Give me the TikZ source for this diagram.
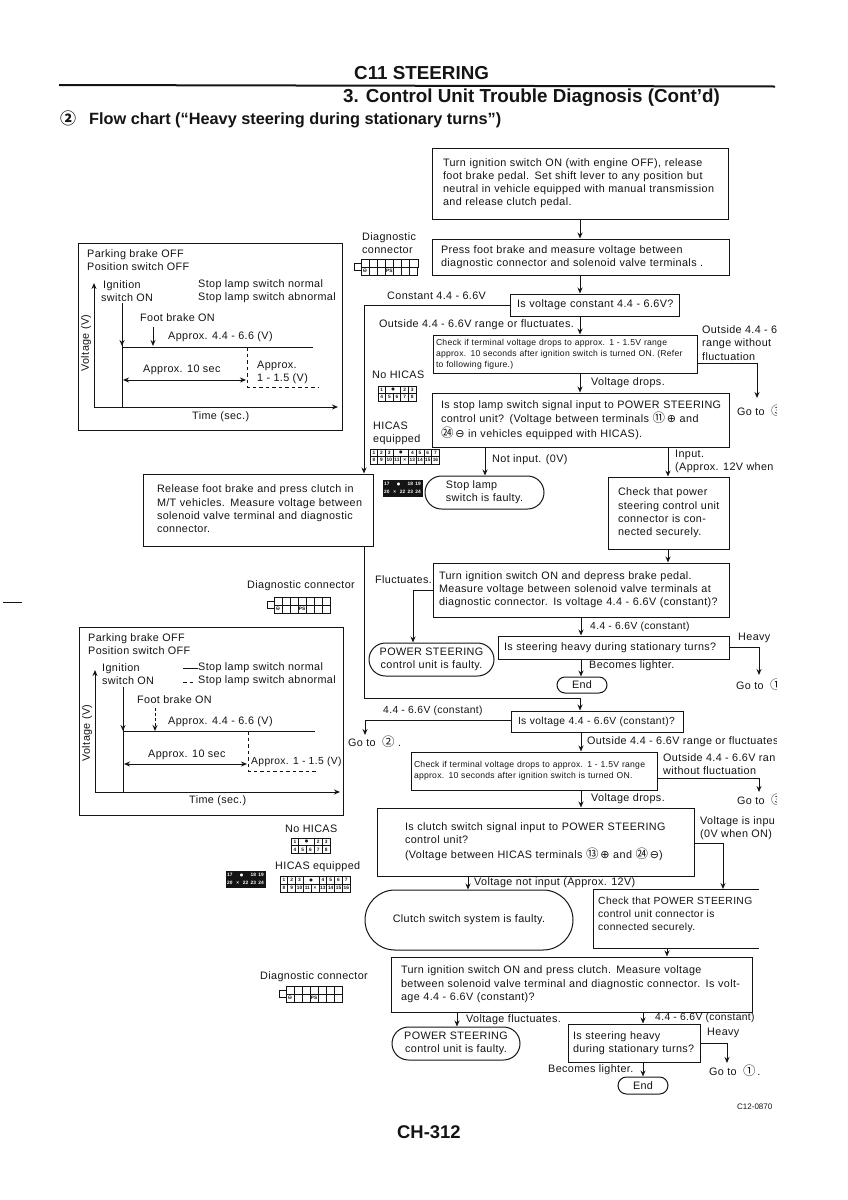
\documentclass[tikz,border=0pt]{standalone}
\usepackage{fontspec}
\setmainfont{Liberation Sans}
\newfontfamily\cjkf{Noto Sans CJK SC}
\newfontfamily\djv{DejaVu Sans}
\usetikzlibrary{arrows.meta,shapes.misc}
\definecolor{ink}{HTML}{141414}
\newcommand\bodyf{\fontsize{10.8}{13.2}\selectfont\addfontfeatures{LetterSpace=3.5}}
\newcommand\tightf{\fontsize{10.3}{13.2}\selectfont\addfontfeatures{LetterSpace=3.5}}
\newcommand\smallf{\fontsize{8.6}{10.9}\selectfont\addfontfeatures{LetterSpace=3}}
\newcommand\cn[1]{{\cjkf\fontsize{12.5}{11}\selectfont #1}}
\newcommand\sg[1]{{\djv\fontsize{11}{11}\selectfont #1}}
\tikzset{
 every node/.style={text=ink},
 base/.style={line width=1pt,draw=ink},
 boxx/.style={base,rectangle,inner sep=0pt,align=left,font=\bodyf},
 term/.style={base,rounded rectangle,inner sep=0pt,align=center,font=\bodyf},
 lab/.style={inner sep=0pt,anchor=west,align=left,font=\bodyf},
 flow/.style={line width=1pt,draw=ink,-{Stealth[length=6pt,width=5pt]}},
 plain/.style={line width=1pt,draw=ink},
 twoway/.style={line width=1pt,draw=ink,{Stealth[length=6pt,width=5pt]}-{Stealth[length=6pt,width=5pt]}},
 dashline/.style={line width=1pt,draw=ink,dash pattern=on 3.5pt off 3pt},
 cell/.style={draw=ink,line width=.7pt,inner sep=0pt,font=\fontsize{4.8}{4.8}\selectfont\bfseries},
 darkcell/.style={cell,fill=ink,text=white},
}
% box: name,x1,y1,x2,y2,left inset,text
\newcommand\tbx[8][\bodyf]{%
 \pgfmathsetmacro\bxw{#5-#3}\pgfmathsetmacro\bxh{#6-#4}%
 \node[boxx,font=#1,minimum height=\bxh pt,text width=\bxw pt] (#2) at ({(#3+#5)/2},{(#4+#6)/2}) {\hspace*{#7pt}\begin{tabular}{@{}l@{}}#8\end{tabular}};%
}
\newcommand\tm[7]{%
 \pgfmathsetmacro\bxw{#4-#2}\pgfmathsetmacro\bxh{#5-#3}%
 \node[term,minimum height=\bxh pt,minimum width=\bxw pt,#7] (#1) at ({(#2+#4)/2},{(#3+#5)/2}) {#6};%
}
% terminal grid: name,x,y,cellw,cellh,style,row1,row2  (entries start/width/label)
\newcommand\tgrid[8]{%
 \foreach \s/\w/\t [count=\i] in {#7}{\pgfmathsetmacro\cw{\w*#4}\node[#6,minimum width=\cw pt,minimum height=#5 pt] (#1a\i) at ({#2+(\s+\w/2)*#4},{#3+#5/2}) {\t};}
 \foreach \s/\w/\t [count=\i] in {#8}{\pgfmathsetmacro\cw{\w*#4}\node[#6,minimum width=\cw pt,minimum height=#5 pt] (#1b\i) at ({#2+(\s+\w/2)*#4},{#3+1.5*#5}) {\t};}
}
% diagnostic connector icon: name,x,y,cellw
\newcommand\dconn[4]{%
 \node[cell,minimum width=7pt,minimum height=7pt] (#1s) at ({#2+3.5},{#3+8}) {};
 \foreach \k in {0,...,6}{\node[cell,minimum width=#4 pt,minimum height=8pt,line width=.4pt] (#1t\k) at ({#2+7+(\k+.5)*#4},{#3+4}) {};}
 \foreach \k/\t in {0/{\sg{\fontsize{5.5}{5.5}\selectfont⊖}},1/{},2/{},3/PS,4/{},5/{},6/{}}{\node[cell,minimum width=#4 pt,minimum height=8pt] (#1u\k) at ({#2+7+(\k+.5)*#4},{#3+12}) {\t};}
}
\begin{document}
\begin{tikzpicture}[x=1pt,y=-1pt]
\useasboundingbox (0,0) rectangle (848,1200);
\fill[white] (0,0) rectangle (848,1200);
\begin{scope}
\clip (0,0) rectangle (776,1200);
% header
\node[inner sep=0pt,anchor=west,font=\fontsize{18.8}{20}\selectfont\bfseries] (title1) at (354,73) {C11 STEERING};
\draw[line width=2pt,draw=ink] (59,85) -- (775,86.5);
\node[inner sep=0pt,anchor=west,font=\fontsize{18.8}{20}\selectfont\bfseries] (title2) at (343,98) {3. Control Unit Trouble Diagnosis (Cont'd)};
\node[inner sep=0pt,anchor=west,font=\fontsize{16.3}{18}\selectfont\bfseries] (title3) at (60,119) {\cn{\fontsize{16}{16}\selectfont ②}\hspace{13pt}Flow chart (“Heavy steering during stationary turns”)};
\draw[plain] (3,602) -- (22,602);
% main boxes
\tbx{b1}{432}{148}{728}{219}{11}{Turn ignition switch ON (with engine OFF), release\\foot brake pedal. Set shift lever to any position but\\neutral in vehicle equipped with manual transmission\\and release clutch pedal.}
\tbx{b2}{432}{239}{729}{275}{9}{Press foot brake and measure voltage between\\diagnostic connector and solenoid valve terminals .}
\tbx{b3}{510}{294}{679}{316}{7}{Is voltage constant 4.4 - 6.6V?}
\tbx[\smallf]{b4}{433}{335}{697}{373}{3}{Check if terminal voltage drops to approx. 1 - 1.5V range\\approx. 10 seconds after ignition switch is turned ON. (Refer\\to following figure.)}
\tbx{b5}{432}{393}{729}{447}{9}{Is stop lamp switch signal input to POWER STEERING\\control unit? (Voltage between terminals \cn{⑪}\,\sg{⊕} and\\\cn{㉔}\,\sg{⊖} in vehicles equipped with HICAS).}
\tbx{b6}{143}{474}{373}{546}{14}{Release foot brake and press clutch in\\M/T vehicles. Measure voltage between\\solenoid valve terminal and diagnostic\\connector.}
\tm{t1}{425}{476}{544}{509}{Stop lamp\\switch is faulty.}{align=left}
\tbx{b7}{608}{477}{729}{549}{10}{Check that power\\steering control unit\\connector is con-\\nected securely.}
\tbx{b8}{433}{563}{729}{617}{6}{Turn ignition switch ON and depress brake pedal.\\Measure voltage between solenoid valve terminals at\\diagnostic connector. Is voltage 4.4 - 6.6V (constant)?}
\tm{t2}{369}{643}{494}{676}{POWER STEERING\\control unit is faulty.}{}
\tbx{b9}{498}{636}{729}{659}{6}{Is steering heavy during stationary turns?}
\tm{t3}{557}{677}{607}{693}{End}{}
\tbx[\tightf]{b10}{511}{711}{683}{732}{7}{Is voltage 4.4 - 6.6V (constant)?}
\tbx[\smallf]{b11}{411}{752}{657}{790}{3}{Check if terminal voltage drops to approx. 1 - 1.5V range\\approx. 10 seconds after ignition switch is turned ON.}
\tbx{b12}{377}{808}{694}{876}{28}{Is clutch switch signal input to POWER STEERING\\control unit?\\(Voltage between HICAS terminals \cn{⑬}\,\sg{⊕} and \cn{㉔}\,\sg{⊖})}
\tm{t4}{365}{890}{573}{950}{Clutch switch system is faulty.}{}
\node[lab,align=left,font=\tightf] (b13t) at (598,915) {Check that POWER STEERING\\control unit connector is\\connected securely.};
\coordinate (b13nw) at (593,889); \coordinate (b13ne) at (759,889);
\coordinate (b13sw) at (593,948); \coordinate (b13se) at (759,948);
\draw[plain] (b13ne) -- (b13nw) -- (b13sw) -- (b13se);
\tbx{b14}{391}{957}{752}{1012}{10}{Turn ignition switch ON and press clutch. Measure voltage\\between solenoid valve terminal and diagnostic connector. Is volt-\\age 4.4 - 6.6V (constant)?}
\tm{t5}{392}{1027}{520}{1060}{POWER STEERING\\control unit is faulty.}{}
\tbx{b15}{568}{1024}{700}{1062}{5}{Is steering heavy\\during stationary turns?}
\tm{t6}{618}{1077}{668}{1094}{End}{}
% free ends
\coordinate (g1) at (757,398); \coordinate (g2) at (759,675); \coordinate (g3) at (365,735);
\coordinate (g4) at (759,792); \coordinate (g5) at (727,1063);
% connectors
\draw[flow] (b1.south -| 580,0) -- (b2.north -| 580,0);
\draw[flow] (b2.south -| 580,0) -- (b3.north -| 580,0);
\draw[flow] (b3.south -| 580,0) -- (b4.north -| 580,0);
\draw[flow] (b4.south -| 580,0) -- (b5.north -| 580,0);
\draw[flow] (b3.west |- 0,305) -- (364,305) -- (b6.north -| 364,0);
\draw[flow] (b4.east |- 0,363) -| (g1);
\draw[flow] (b5.south -| 485,0) -- (t1.north -| 485,0);
\draw[flow] (b5.south -| 668,0) -- (b7.north -| 668,0);
\draw[flow] (b7.south -| 668,0) -- (b8.north -| 668,0);
\draw[flow] (b8.west |- 0,590) -- (413,590) -- (t2.north -| 413,0);
\draw[flow] (b8.south -| 581,0) -- (b9.north -| 581,0);
\draw[flow] (b9.east |- 0,647) -| (g2);
\draw[flow] (b9.south -| 581,0) -- (t3.north -| 581,0);
\draw[flow] (b6.south -| 364,0) -- (364,698) -- (580,698) -- (b10.north -| 580,0);
\draw[flow] (b10.west |- 0,720) -| (g3);
\draw[flow] (b10.south -| 581,0) -- (b11.north -| 581,0);
\draw[flow] (b11.east |- 0,778) -| (g4);
\draw[flow] (b11.south -| 581,0) -- (b12.north -| 581,0);
\draw[flow] (b12.east |- 0,843) -| (b13ne -| 723,0);
\draw[flow] (b12.south -| 468,0) -- (t4.north -| 468,0);
\draw[flow] (b13sw -| 667,0) -- (b14.north -| 667,0);
\draw[flow] (b14.south -| 457,0) -- (t5.north -| 457,0);
\draw[flow] (b14.south -| 643,0) -- (b15.north -| 643,0);
\draw[flow] (b15.east |- 0,1043) -| (g5);
\draw[flow] (b15.south -| 643,0) -- (t6.north -| 643,0);
% connector labels
\node[lab] (l1) at (387,296) {Constant 4.4 - 6.6V};
\node[lab] (l2) at (379,325) {Outside 4.4 - 6.6V range or fluctuates.};
\node[lab] (l3) at (702,343) {Outside 4.4 - 6\\range without\\fluctuation};
\node[lab] (l4) at (591,383) {Voltage drops.};
\node[lab] (l5) at (737,411) {Go to\hspace{3pt} \cn{③}};
\node[lab] (l6) at (492,460) {Not input. (0V)};
\node[lab] (l7) at (675,461.5) {Input.\\(Approx. 12V when};
\node[lab] (l8) at (375,580) {Fluctuates.};
\node[lab,font=\tightf] (l9) at (590,627) {4.4 - 6.6V (constant)};
\node[lab] (l10) at (738,638) {Heavy};
\node[lab] (l11) at (589,666) {Becomes lighter.};
\node[lab] (l12) at (736,685) {Go to\hspace{3pt} \cn{①}};
\node[lab,font=\tightf] (l13) at (383,711) {4.4 - 6.6V (constant)};
\node[lab] (l14) at (348,742) {Go to\hspace{3pt} \cn{②} .};
\node[lab] (l15) at (587,742) {Outside 4.4 - 6.6V range or fluctuates};
\node[lab] (l16) at (663,764) {Outside 4.4 - 6.6V ran\\without fluctuation};
\node[lab] (l17) at (737,800) {Go to\hspace{3pt} \cn{③}};
\node[lab] (l18) at (591,799) {Voltage drops.};
\node[lab] (l19) at (700,828.5) {Voltage is inpu\\(0V when ON)};
\node[lab] (l20) at (474,883) {Voltage not input (Approx. 12V)};
\node[lab] (l21) at (466,1020) {Voltage fluctuates.};
\node[lab,font=\tightf] (l22) at (655,1018) {4.4 - 6.6V (constant)};
\node[lab] (l23) at (707,1033) {Heavy};
\node[lab] (l24) at (709,1071) {Go to\hspace{3pt} \cn{①}\,.};
\node[lab] (l25) at (548,1070) {Becomes lighter.};
\node[inner sep=0pt,anchor=west,font=\fontsize{8}{8}\selectfont] (code) at (737,1107) {C12-0870};
\node[inner sep=0pt,anchor=west,font=\fontsize{18.4}{20}\selectfont\bfseries] (page) at (397,1132) {CH-312};
% left labels and icons
\node[lab] (d1) at (362,243) {Diagnostic\\connector};
\dconn{ic1}{354}{259}{8.1}
\node[lab] (d2) at (372,375) {No HICAS};
\tgrid{ic2}{378}{386}{7.6}{7.5}{cell}{0/1/1,1/2/\sg{\fontsize{4}{4}\selectfont●},3/1/2,4/1/3}{0/1/4,1/1/5,2/1/6,3/1/7,4/1/8}
\node[lab] (d3) at (373,433) {HICAS\\equipped};
\tgrid{ic3}{370}{449}{7.7}{7.5}{cell}{0/1/1,1/1/2,2/1/3,3/2/\sg{\fontsize{4}{4}\selectfont●},5/1/4,6/1/5,7/1/6,8/1/7}{0/1/8,1/1/9,2/1/10,3/1/11,4/1/×,5/1/13,6/1/14,7/1/15,8/1/16}
\tgrid{ic4}{383}{480}{7.8}{8}{darkcell}{0/1/17,1/2/\sg{\fontsize{4}{4}\selectfont●},3/1/18,4/1/19}{0/1/20,1/1/×,2/1/22,3/1/23,4/1/24}
\node[lab] (d4) at (247,586) {Diagnostic connector};
\dconn{ic5}{267}{597}{8}
\node[lab] (d5) at (285,829) {No HICAS};
\tgrid{ic6}{291}{838}{7.8}{7.7}{cell}{0/1/1,1/2/\sg{\fontsize{4}{4}\selectfont●},3/1/2,4/1/3}{0/1/4,1/1/5,2/1/6,3/1/7,4/1/8}
\node[lab] (d6) at (275,867) {HICAS equipped};
\tgrid{ic7}{280}{876}{7.8}{8}{cell}{0/1/1,1/1/2,2/1/3,3/2/\sg{\fontsize{4}{4}\selectfont●},5/1/4,6/1/5,7/1/6,8/1/7}{0/1/8,1/1/9,2/1/10,3/1/11,4/1/×,5/1/13,6/1/14,7/1/15,8/1/16}
\tgrid{ic8}{226}{871}{7.8}{8}{darkcell}{0/1/17,1/2/\sg{\fontsize{4}{4}\selectfont●},3/1/18,4/1/19}{0/1/20,1/1/×,2/1/22,3/1/23,4/1/24}
\node[lab] (d7) at (260,977) {Diagnostic connector};
\dconn{ic9}{279}{986}{8}
% graph 1
\tbx{f1}{78}{243}{342}{430}{0}{}
\node[lab] (f1a) at (87,260) {Parking brake OFF\\Position switch OFF};
\coordinate (o1) at (94,407);
\draw[flow] (o1) -- (94,283);
\draw[flow] (o1) -- (338,407);
\node[lab] (f1b) at (101,291.5) {\hspace{2pt}Ignition\\switch ON};
\node[lab] (f1c) at (198,291.5) {Stop lamp switch normal\\Stop lamp switch abnormal};
\draw[plain] (122,407) -- (122,303);
\draw[flow] (122,303) -- (122,346);
\node[lab] (f1d) at (140,318) {Foot brake ON};
\draw[flow] (153,327) -- (153,346);
\node[lab] (f1e) at (168,337) {Approx. 4.4 - 6.6 (V)};
\draw[plain] (122,347) -- (313,347);
\draw[dashline] (247,347) -- (247,387) -- (318,387);
\draw[twoway] (123,380) -- (246,380);
\node[lab] (f1f) at (143,370) {Approx. 10 sec};
\node[lab] (f1g) at (257,372) {Approx.\\1 - 1.5 (V)};
\node[lab] (f1h) at (192,417) {Time (sec.)};
\node[inner sep=0pt,rotate=90,font=\bodyf] (f1i) at (86,343) {Voltage (V)};
% graph 2
\tbx{f2}{79}{627}{343}{815}{0}{}
\node[lab] (f2a) at (88,644) {Parking brake OFF\\Position switch OFF};
\coordinate (o2) at (95,792);
\draw[flow] (o2) -- (95,670);
\draw[flow] (o2) -- (340,792);
\node[lab] (f2b) at (102,674) {Ignition\\switch ON};
\draw[plain] (183,668) -- (198,668);
\draw[dashline] (183,682) -- (195,682);
\node[lab] (f2c) at (198,674.5) {Stop lamp switch normal\\Stop lamp switch abnormal};
\draw[plain] (123,792) -- (123,687);
\draw[flow] (123,687) -- (123,731);
\node[lab] (f2d) at (137,700) {Foot brake ON};
\draw[flow,densely dashed] (155,708) -- (155,731);
\node[lab] (f2e) at (168,722) {Approx. 4.4 - 6.6 (V)};
\draw[plain] (123,731) -- (315,731);
\draw[dashline] (248,731) -- (248,771) -- (318,771);
\draw[twoway] (124,764) -- (247,764);
\node[lab] (f2f) at (148,755) {Approx. 10 sec};
\node[lab,font=\tightf] (f2g) at (251,762) {Approx. 1 - 1.5 (V)};
\node[lab] (f2h) at (189,801) {Time (sec.)};
\node[inner sep=0pt,rotate=90,font=\bodyf] (f2i) at (87,733) {Voltage (V)};
\end{scope}
\end{tikzpicture}
\end{document}
